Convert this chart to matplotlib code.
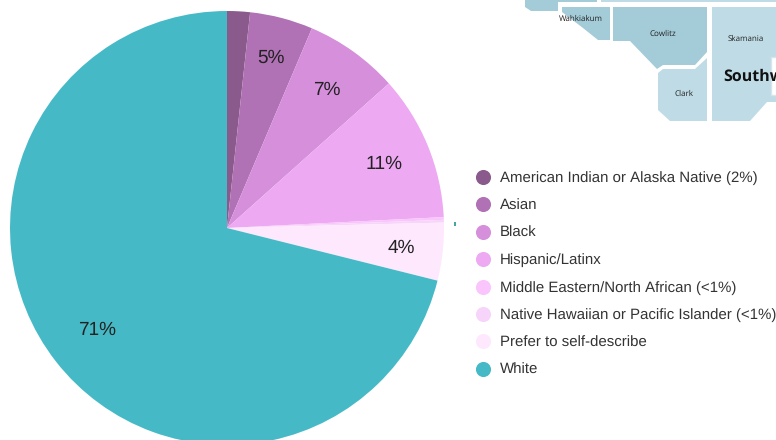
import math
import matplotlib
matplotlib.use('Agg')
import matplotlib.pyplot as plt
from matplotlib.patches import Polygon, Rectangle

plt.rcParams['text.hinting'] = 'no_hinting'
plt.rcParams['text.hinting_factor'] = 1

categories = ['American Indian or Alaska Native (2%)', 'Asian', 'Black', 'Hispanic/Latinx',
              'Middle Eastern/North African (<1%)', 'Native Hawaiian or Pacific Islander (<1%)',
              'Prefer to self-describe', 'White']
values = [1.7, 4.7, 7.0, 10.8, 0.2, 0.2, 4.3, 71.1]
colors = ['#8B5A8C', '#B071B5', '#D68FDB', '#EDA9F2', '#FAC4FC', '#F7D4F9', '#FDE8FD', '#45BAC6']

# how far out each percent label sits, as a share of the radius
label_dist = [0.8, 0.81, 0.785, 0.78, 0.8, 0.8, 0.81, 0.76]

# bit of a county map that is cropped into the corner of the picture
dark = '#A3CBD8'
light = '#BFDCE6'
map_shapes = [
    ([(525, 0), (597, 0), (597, 2), (558, 2), (558, 11), (531, 11), (525, 7)], dark),
    ([(601, 0), (776, 0), (776, 2), (601, 2)], light),
    ([(562, 7), (610, 7), (610, 40), (598, 40), (583, 28), (562, 12)], dark),
    ([(613, 7), (707, 7), (707, 52), (695, 65), (663, 65), (657, 69), (630, 41), (613, 41)], dark),
    ([(658, 73), (663, 69), (695, 69), (707, 58), (707, 121), (670, 121), (658, 110)], light),
    ([(712, 7), (776, 7), (776, 102), (767, 102), (750, 121), (712, 121)], light),
]
map_labels = [('Wahkiakum', 581, 19), ('Cowlitz', 663, 34), ('Skamania', 746, 39), ('Clark', 684, 94)]


def pct_label(p):
    return '%.0f%%' % p if p >= 3 else ''


fig = plt.figure(figsize=(7.76, 4.4), dpi=100)
ax = fig.add_axes([0, 0, 1, 1])

cx, cy, radius = 227, 212, 217
wedges, texts, autotexts = ax.pie(values, colors=colors, startangle=90, counterclock=False,
                                  center=(cx, cy), radius=radius, autopct=pct_label, frame=True,
                                  textprops={'family': 'Liberation Sans', 'fontsize': 13.5, 'color': '#222222'})
for w, t, d in zip(wedges, autotexts, label_dist):
    a = math.radians((w.theta1 + w.theta2) / 2)
    t.set_position((cx + d * radius * math.cos(a), cy + d * radius * math.sin(a) - 0.5))
ax.set_xlim(0, 776)
ax.set_ylim(0, 440)
ax.set_aspect('auto')
ax.axis('off')

# pixel coordinates for everything that is not the pie
ov = fig.add_axes([0, 0, 1, 1])
ov.set_xlim(0, 776)
ov.set_ylim(440, 0)
ov.axis('off')
ov.patch.set_alpha(0)

for pts, c in map_shapes:
    ov.add_patch(Polygon(pts, closed=True, facecolor=c, edgecolor='none'))
ov.add_patch(Rectangle((771, 57), 6, 38, facecolor='white', edgecolor='#D5E6EC', lw=1))
for name, x, y in map_labels:
    ov.text(x, y, name, ha='center', va='center', fontsize=5.6, family='Open Sans', color='#222222')
ov.text(723, 77, 'Southwest', ha='left', va='center', fontsize=11.8, family='Open Sans',
        fontweight='bold', color='#111111', clip_on=True)

ov.add_patch(Rectangle((454, 222), 1.5, 4, facecolor='#45A5A8', edgecolor='none'))

for i, name in enumerate(categories):
    y = 177 + i * 27.4
    ov.scatter([483], [y], s=118, color=colors[i], linewidths=0)
    ov.text(500, y + 1.2, name, ha='left', va='center', fontsize=10.6, family='Liberation Sans', color='#333333')

fig.savefig('out.png', dpi=100)
